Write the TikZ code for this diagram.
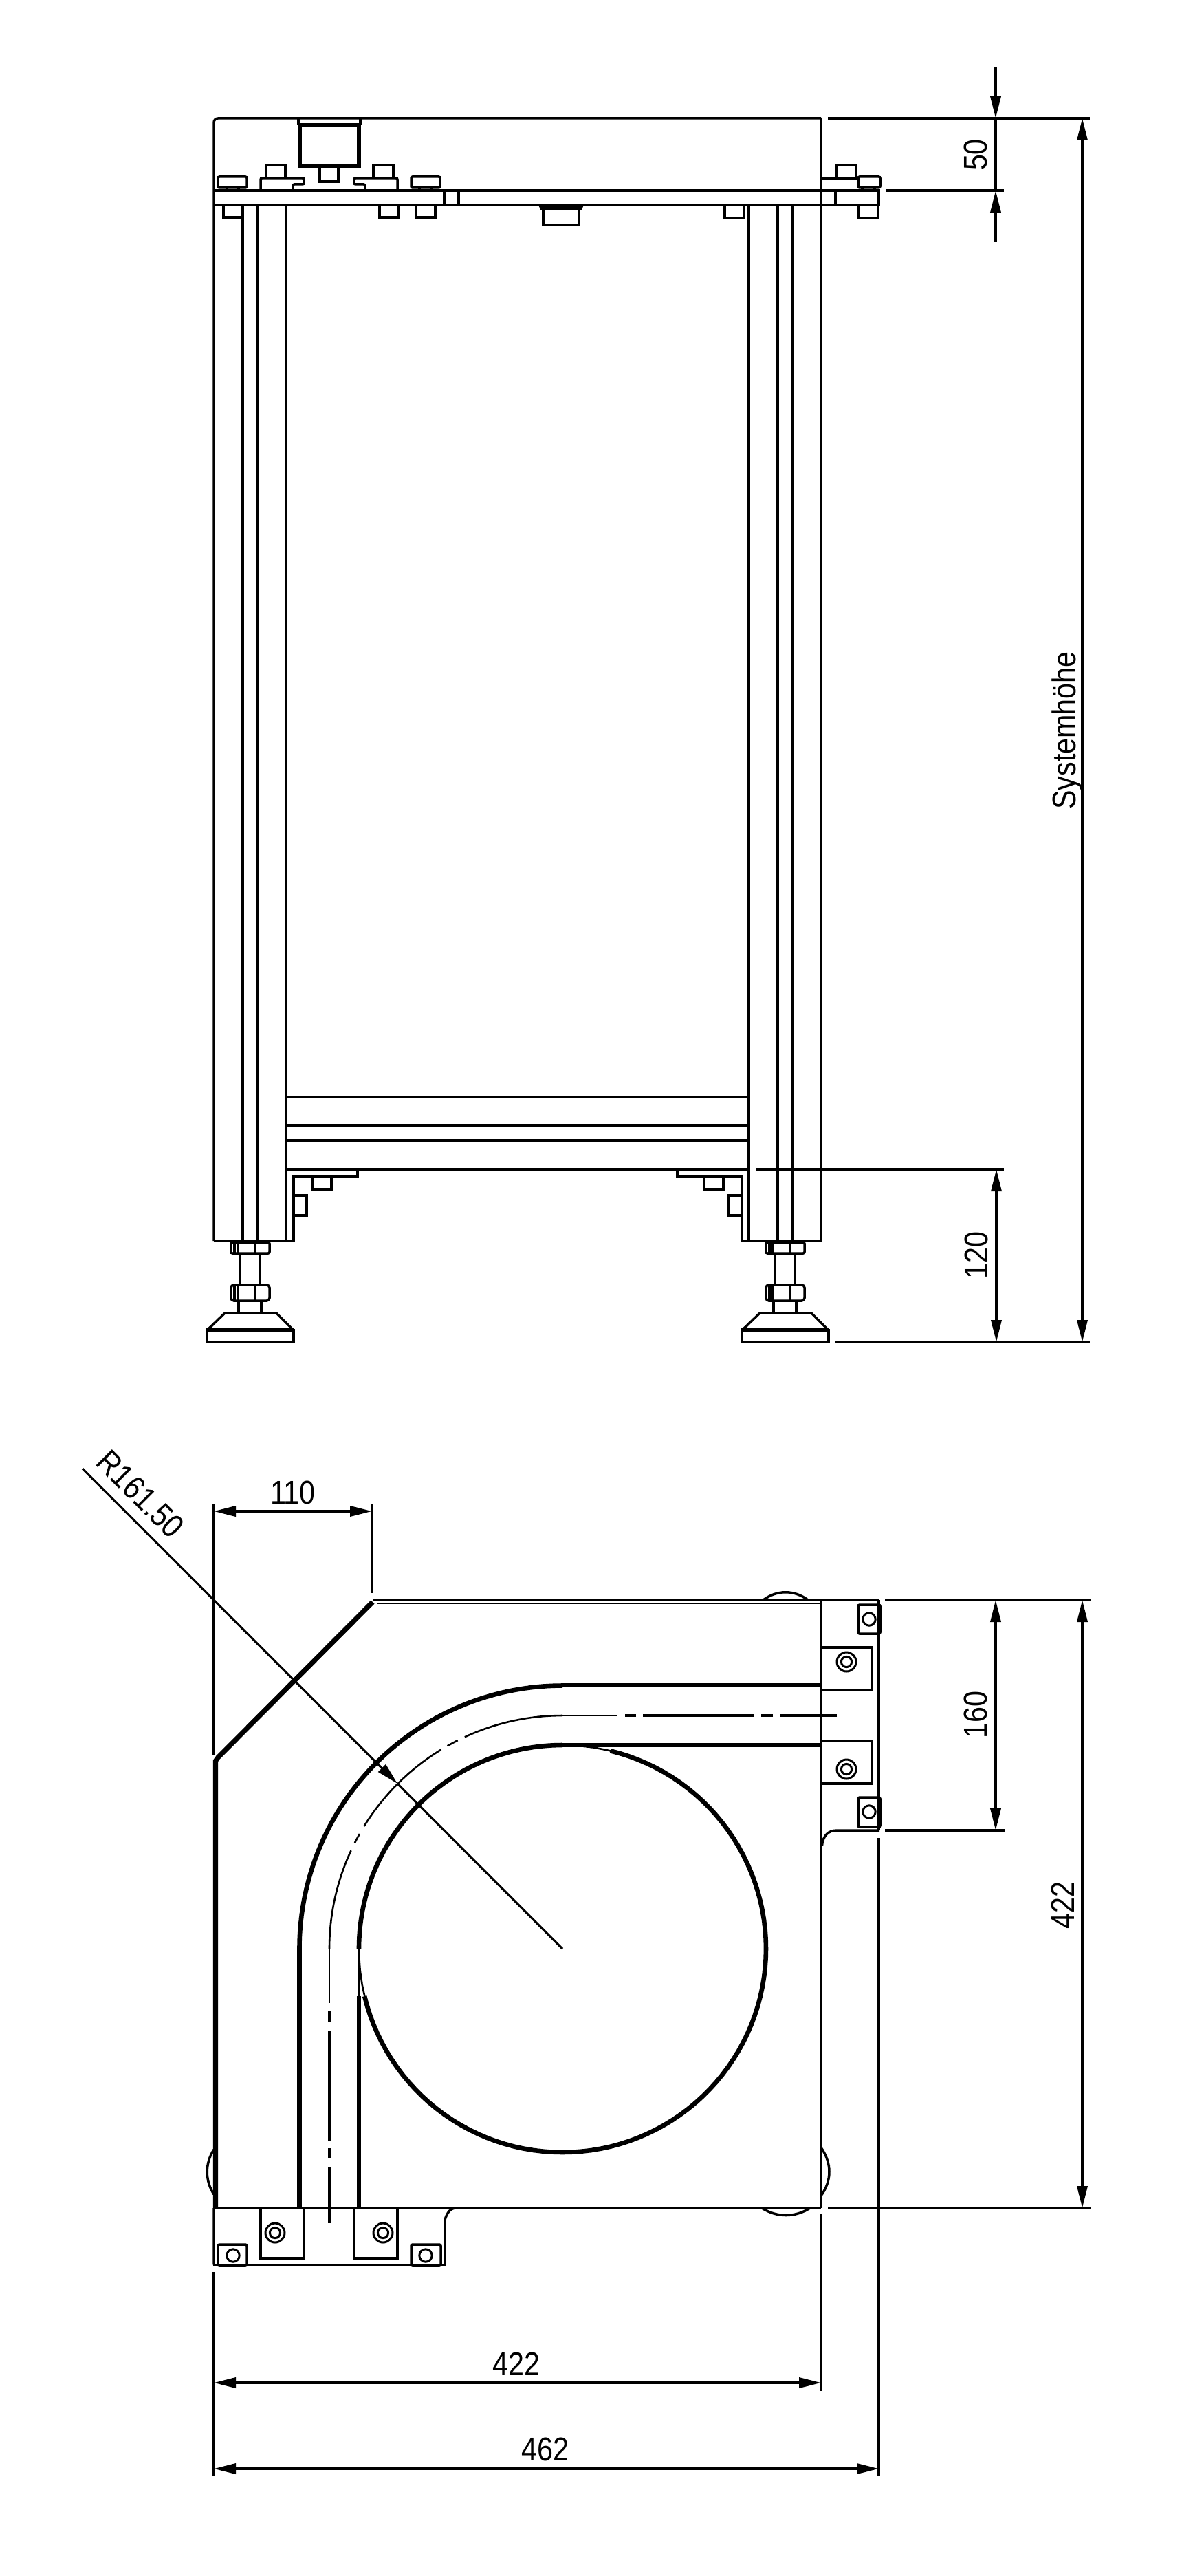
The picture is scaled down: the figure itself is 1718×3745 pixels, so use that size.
\documentclass[tikz,border=0pt]{standalone}
\usepackage{fontspec}
\setmainfont[FakeStretch=0.86]{Liberation Sans}
\usetikzlibrary{arrows.meta}
\tikzset{
  thinln/.style={line width=1.75pt},
  hairln/.style={line width=1.3pt},
  thickln/.style={line width=3.3pt},
  heavyln/.style={line width=3.6pt},
  dimln/.style={line width=1.75pt},
  dimboth/.style={dimln,{Triangle[length=16pt,width=7.5pt]}-{Triangle[length=16pt,width=7.5pt]}},
  dimend/.style={dimln,-{Triangle[length=16pt,width=7.5pt]}},
  dimtxt/.style={inner sep=0pt,font=\fontsize{24}{24}\selectfont,text height=17pt,text depth=0pt},
  ringo/.style={line width=1.5pt},
}
\newcommand{\arcdraw}[4]{\draw[#1] plot[domain=#3:#4,samples=90] ({818+#2*cos(\x)},{2833-#2*sin(\x)});}
\newcommand{\footassy}{%
  % upper nut
  \draw[thinln,rounded corners=1pt] (336,1806) rectangle (392,1822);
  \draw[thinln] (341,1806)--(341,1822) (346,1806)--(346,1822) (371,1806)--(371,1822);
  % rod
  \draw[thinln] (349,1822)--(349,1868) (378,1822)--(378,1868);
  % lower nut
  \draw[thinln,rounded corners=2pt] (336,1868) rectangle (392,1891);
  \draw[thinln] (341,1868)--(341,1891) (346,1868)--(346,1891) (371,1868)--(371,1891);
  % lower rod
  \draw[thinln] (347,1891)--(347,1909) (380,1891)--(380,1909);
  % foot
  \draw[thinln] (301,1934)--(327,1909)--(402,1909)--(427,1934);
  \draw[thinln] (301,1934) rectangle (427,1951);
  \draw[thickln] (300,1934)--(428,1934);
}
\begin{document}
\begin{tikzpicture}[x=0.5pt,y=-0.5pt,line join=miter]
\fill[white] (0,0) rectangle (1718,3745);
\useasboundingbox (0,0) rectangle (1718,3745);
%% ---------- side view ----------
\draw[thinln,rounded corners=3pt] (311,1804)--(311,172)--(1194,172);
\draw[thinln] (1194,172)--(1194,1804)--(1079,1804)--(1079,1710)--(985,1710)--(985,1700);
\draw[thinln] (311,1804)--(427,1804)--(427,1710)--(520,1710)--(520,1700);
% plate
\draw[thinln] (311,277)--(1278,277)--(1278,298)--(311,298);
\draw[thinln] (646,277)--(646,298) (667,277)--(667,298) (1215,277)--(1215,298);
% profiles
\foreach \px in {353,374,416,1089,1131,1152}{\draw[thinln] (\px,298)--(\px,1804);}
% cross bars
\foreach \py in {1595,1636,1658,1700}{\draw[thinln] (416,\py)--(1089,\py);}
% block at top
\draw[thinln] (434,172)--(434,182) (524,172)--(524,182);
\draw[thickln] (436,182) rectangle (522,241);
\draw[thinln] (465,241)--(465,264)--(492,264)--(492,241);
% washers and heads
\draw[thinln,rounded corners=1pt] (317,257) rectangle (359,273);
\draw[thinln] (330,273)--(330,277) (347,273)--(347,277);
\draw[thinln,rounded corners=1pt] (598,257) rectangle (640,273);
\draw[thinln] (610,273)--(610,277) (627,273)--(627,277);
\draw[thinln] (387,259)--(387,240)--(415,240)--(415,259);
\draw[thinln] (543,259)--(543,240)--(572,240)--(572,259);
\draw[thinln,rounded corners=1pt] (379,277)--(379,259)--(442,259)--(442,268)--(426,268)--(426,277);
\draw[thinln,rounded corners=1pt] (578,277)--(578,259)--(515,259)--(515,268)--(531,268)--(531,277);
% right end hardware
\draw[thinln] (1194,259)--(1247,259);
\draw[thinln] (1217,259)--(1217,240)--(1245,240)--(1245,259);
\draw[thinln,rounded corners=1pt] (1248,257) rectangle (1280,273);
\draw[thinln] (1254,273)--(1254,277) (1272,273)--(1272,277);
% under plate
\draw[thinln] (325,298)--(325,316)--(352,316);
\draw[thinln] (552,298)--(552,316)--(579,316)--(579,298);
\draw[thinln] (605,298)--(605,316)--(633,316)--(633,298);
\draw[thinln] (1054,298)--(1054,317)--(1082,317)--(1082,298);
\draw[thinln] (1249,298)--(1249,317)--(1277,317)--(1277,298);
\fill (783,298)--(849,298)--(846,305)--(786,305)--cycle;
\draw[thinln] (790,305)--(790,327)--(842,327)--(842,305);
% lower small blocks
\draw[thinln] (455,1710)--(455,1729)--(482,1729)--(482,1710);
\draw[thinln] (427,1738)--(446,1738)--(446,1767)--(427,1767);
\draw[thinln] (1024,1710)--(1024,1729)--(1052,1729)--(1052,1710);
\draw[thinln] (1079,1738)--(1060,1738)--(1060,1767)--(1079,1767);
\footassy
\begin{scope}[shift={(778,0)}]\footassy\end{scope}
% side view dimensions
\draw[dimln] (1204,172)--(1585,172);
\draw[dimln] (1288,277)--(1460,277);
\draw[dimln] (1100,1700)--(1460,1700);
\draw[dimln] (1214,1951)--(1585,1951);
\draw[dimend] (1448,98)--(1448,172);
\draw[dimln] (1448,172)--(1448,277);
\draw[dimend] (1448,352)--(1448,277);
\draw[dimboth] (1449,1700)--(1449,1951);
\draw[dimboth] (1574,172)--(1574,1951);
\node[dimtxt,rotate=90] (d50) at (1418,225) {50};
\node[dimtxt,rotate=90] (d120) at (1419,1825) {120};
\node[dimtxt,rotate=90] (dsys) at (1547,1062) {Systemhöhe};
%% ---------- top view ----------
\draw[thinln] (542,2326)--(1279,2326);
\draw[hairln] (548,2331)--(1194,2331);
\draw[thinln] (1194,2326)--(1194,3210);
\draw[thinln] (1278,2326)--(1278,2661);
\draw[thinln] (311,3210)--(1194,3210);
\draw[heavyln] (313.5,3210)--(313.5,2560)--(317,2555)--(542,2329);
% lugs
\draw[thinln,rounded corners=1pt] (311,3210)--(311,3293)--(647,3293)--(647,3227);
\draw[thinln] (647,3227) .. controls (650,3217) and (655,3210) .. (663,3210);
\draw[thinln] (1279,2661)--(1217,2661) .. controls (1205,2661) and (1197,2668) .. (1195.5,2683);
% bumps
\draw[thinln] (1110,2326) .. controls (1130,2311) and (1155,2311) .. (1175,2326);
\draw[thinln] (1108,3210) .. controls (1130,3224) and (1156,3224) .. (1178,3210);
\draw[thinln] (1194,3122) .. controls (1210,3145) and (1210,3170) .. (1194,3192);
\draw[thinln] (311,3125) .. controls (298,3145) and (298,3170) .. (311,3190);
% mounting blocks
\draw[thinln] (1194,2395)--(1268,2395)--(1268,2457)--(1194,2457);
\draw[thinln] (1194,2531)--(1268,2531)--(1268,2593)--(1194,2593);
\draw[thinln] (379,3210)--(379,3283)--(442,3283)--(442,3210);
\draw[thinln] (515,3210)--(515,3283)--(578,3283)--(578,3210);
\foreach \cx/\cy in {1231/2416,1231/2572,400/3246,557/3246}{
  \draw[ringo] (\cx,\cy) circle[radius=7pt];
  \draw[ringo] (\cx,\cy) circle[radius=3.8pt];
}
% small squares
\foreach \xa/\ya/\xb/\yb in {1248/2333/1280/2375,1248/2613/1280/2656,317/3263/359/3294,598/3263/641/3294}{
  \draw[thinln,rounded corners=1pt] (\xa,\ya) rectangle (\xb,\yb);
}
\foreach \cx/\cy in {1264/2354,1264/2634,339/3279,619/3279}{
  \draw[ringo] (\cx,\cy) circle[radius=4.6pt];
}
% track
\draw[thickln] (1194,2450)--(818,2450);
\arcdraw{thickln}{382.5}{90}{180}
\draw[thickln] (435.5,2833)--(435.5,3210);
\draw[thickln] (1194,2537)--(818,2537);
\arcdraw{thickln}{296}{90}{180}
\draw[hairln] (522,2833)--(522,2902);
\draw[thickln] (522,2902)--(522,3210);
\arcdraw{hairln}{296}{0}{360}
\arcdraw{thickln}{296}{193.5}{436.4}
% centre line
\draw[thinln] (1217,2494)--(1134,2494);
\draw[thinln] (1124,2494)--(1107,2494);
\draw[thinln] (1096,2494)--(935,2494);
\draw[thinln] (925,2494)--(909,2494);
\draw[hairln] (897,2494)--(818,2494);
\arcdraw{hairln}{339}{90}{114.8}
\arcdraw{hairln}{339}{116.7}{119.6}
\arcdraw{hairln}{339}{121.4}{148.3}
\arcdraw{hairln}{339}{150.5}{153}
\arcdraw{hairln}{339}{155.1}{180}
\draw[hairln] (479,2833)--(479,2912);
\draw[thinln] (479,2924)--(479,2939);
\draw[thinln] (479,2952)--(479,3112);
\draw[thinln] (479,3123)--(479,3138);
\draw[thinln] (479,3150)--(479,3232);
% top view dimensions
\draw[dimln] (311,2187)--(311,2552);
\draw[dimln] (541,2187)--(541,2316);
\draw[dimboth] (311,2197)--(541,2197);
\node[dimtxt] (d110) at (426,2169) {110};
\draw[line width=1.6pt,-{Triangle[length=16pt,width=7.5pt]}] (120,2135)--(578,2593);
\draw[line width=1.6pt] (578,2593)--(818,2833);
\node[dimtxt,rotate=-45] (drad) at (205,2172) {R161.50};
\draw[dimln] (1287,2326)--(1586,2326);
\draw[dimln] (1287,2661)--(1461,2661);
\draw[dimln] (1204,3210)--(1586,3210);
\draw[dimboth] (1448,2326)--(1448,2661);
\draw[dimboth] (1574,2326)--(1574,3210);
\node[dimtxt,rotate=90] (d160) at (1418,2493) {160};
\node[dimtxt,rotate=90] (d422v) at (1545,2770) {422};
\draw[dimln] (311,3303)--(311,3600);
\draw[dimln] (1194,3219)--(1194,3476);
\draw[dimln] (1278,2672)--(1278,3600);
\draw[dimboth] (311,3464)--(1194,3464);
\draw[dimboth] (311,3589)--(1278,3589);
\node[dimtxt] (d422h) at (751,3436) {422};
\node[dimtxt] (d462) at (793,3560) {462};
\end{tikzpicture}
\end{document}
